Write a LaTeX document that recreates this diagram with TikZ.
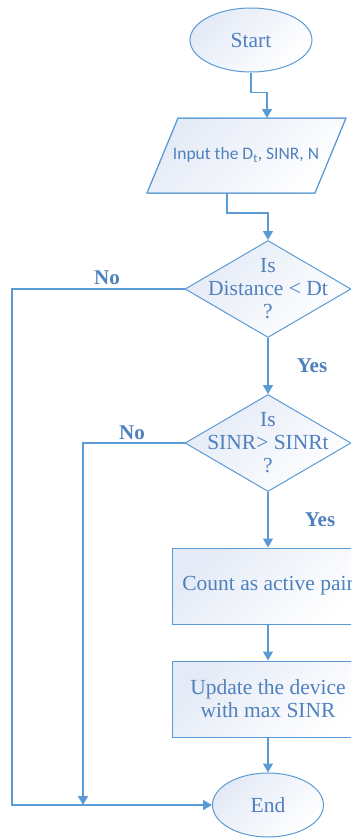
\documentclass[tikz,border=0pt]{standalone}
\usepackage{fontspec}
\setmainfont{Liberation Serif}
\newfontfamily\calib{Carlito}
\usetikzlibrary{shapes.geometric,arrows.meta}
\definecolor{lineblue}{RGB}{91,155,213}
\definecolor{textblue}{RGB}{79,129,189}
\definecolor{fillblue}{RGB}{228,234,246}

\begin{document}
\begin{tikzpicture}[x=1pt,y=-1pt,
  every node/.style={text=textblue, font=\fontsize{21.5}{23}\selectfont},
  shapefill/.style={draw=lineblue, line width=1pt, top color=fillblue, bottom color=white, shading angle=45},
  terminal/.style={shapefill, ellipse, minimum width=#1, minimum height=64pt, inner sep=0pt},
  decision/.style={shapefill, diamond, minimum width=166pt, minimum height=97pt, inner sep=0pt},
  process/.style={shapefill, rectangle, minimum width=192pt, minimum height=76pt, inner sep=0pt, align=center},
  txt/.style={align=center, inner sep=0pt},
  arr/.style={draw=lineblue, line width=1.5pt, -{Triangle[width=10pt,length=9pt]}},
  lbl/.style={font=\fontsize{21}{23}\selectfont\bfseries}
]
\useasboundingbox (0,0) rectangle (351,838);
\clip (0,0) rectangle (351,838);

% terminals
\node[terminal=122pt] (start) at (251,40) {Start};
\node[terminal=111pt] (end) at (268,805) {End};

% input parallelogram
\shade[shapefill] (147,193) -- (315,193) -- (346,118) -- (178,118) -- cycle;
\draw[draw=lineblue, line width=1pt] (147,193) -- (315,193) -- (346,118) -- (178,118) -- cycle;
\node[txt, font=\calib\fontsize{17.5}{20}\selectfont] (input) at (246,155) {Input the D\textsubscript{t}, SINR, N};
\coordinate (inTop) at (267,118);
\coordinate (inBot) at (227,193);

% decisions
\node[decision] (d1) at (268,289) {};
\node[txt] (d1t) at (d1) {Is\\Distance < Dt\\?};
\node[decision] (d2) at (268,443) {};
\node[txt] (d2t) at (d2) {Is\\SINR> SINRt\\?};

% processes
\node[process] (r1) at (268,586) {Count as active pair};
\node[process] (r2) at (268,699) {Update the device\\with max SINR};

% junctions of the "No" branches
\coordinate (j1) at (12,805);
\coordinate (j2) at (83,805);

% connectors
\draw[arr] (start.south) -- ++(0,20) -| (inTop);
\draw[arr] (inBot) -- ++(0,20) -| (d1.north);
\draw[arr] (d1.south) -- (d2.north);
\draw[arr] (d2.south) -- (r1.north);
\draw[arr] (r1.south) -- (r2.north);
\draw[arr] (r2.south) -- (end.north);
\draw[arr] (d1.west) -| (j1) -- (end.west);
\draw[arr] (d2.west) -| (j2);

% branch labels
\node[lbl] (no1) at (107,278) {No};
\node[lbl] (no2) at (132,433) {No};
\node[lbl] (yes1) at (312,366) {Yes};
\node[lbl] (yes2) at (320,520) {Yes};
\end{tikzpicture}
\end{document}
